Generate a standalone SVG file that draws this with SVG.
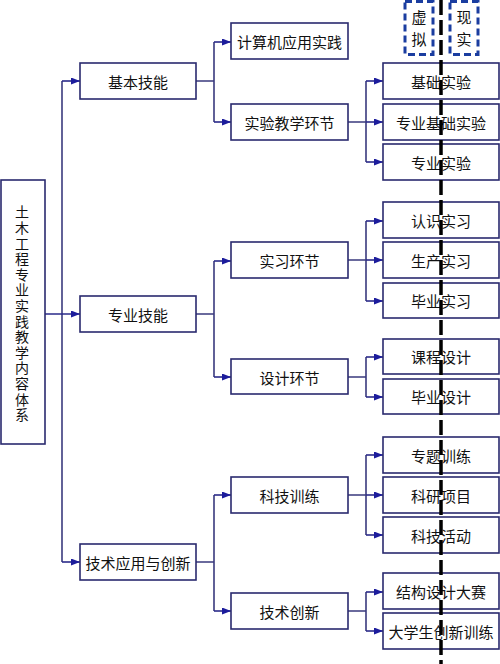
<svg xmlns="http://www.w3.org/2000/svg" width="500" height="664" viewBox="0 0 500 664">
<defs>
<marker id="arr" markerUnits="userSpaceOnUse" markerWidth="10" markerHeight="8" refX="9" refY="3.5" orient="auto">
<path d="M0,0 L9,3.5 L0,7 z" fill="#1c1c9c"/>
</marker>
</defs>
<style>
.box{fill:#fff;stroke:#2a2a6e;stroke-width:1.6}
.t{font-family:"Noto Sans CJK SC","Noto Sans",sans-serif;font-size:15px;fill:#111;text-anchor:middle;dominant-baseline:central}
.ln{fill:none;stroke:#3a3a7e;stroke-width:1.6}
.ar{fill:none;stroke:#2a2a8a;stroke-width:1.6;marker-end:url(#arr)}
.vb{fill:none;stroke:#1a3da0;stroke-width:3;stroke-dasharray:7 4}
.vt{font-family:"Noto Sans CJK SC","Noto Sans",sans-serif;font-size:14px;fill:#111;writing-mode:vertical-rl;letter-spacing:1.6px}
</style>
<rect width="500" height="664" fill="#fff"/>
<g id="connectors">
<path class="ln" d="M62 81 V562"/>
<path class="ar" d="M45 314 H80"/>
<path class="ar" d="M62 81 H80"/>
<path class="ar" d="M62 562 H80"/>
<path class="ln" d="M196 81 H214 M214 42 V122"/>
<path class="ar" d="M214 42 H231"/>
<path class="ar" d="M214 122 H231"/>
<path class="ln" d="M196 314 H214 M214 261 V377"/>
<path class="ar" d="M214 261 H231"/>
<path class="ar" d="M214 377 H231"/>
<path class="ln" d="M196 562 H214 M214 495 V611"/>
<path class="ar" d="M214 495 H231"/>
<path class="ar" d="M214 611 H231"/>
<path class="ln" d="M348 122 H366 M366 81 V162"/>
<path class="ar" d="M366 81 H383"/>
<path class="ar" d="M366 122 H383"/>
<path class="ar" d="M366 162 H383"/>
<path class="ln" d="M348 260 H366 M366 221 V301"/>
<path class="ar" d="M366 221 H383"/>
<path class="ar" d="M366 260 H383"/>
<path class="ar" d="M366 301 H383"/>
<path class="ln" d="M348 377 H366 M366 357 V397"/>
<path class="ar" d="M366 357 H383"/>
<path class="ar" d="M366 397 H383"/>
<path class="ln" d="M348 495 H366 M366 455 V535"/>
<path class="ar" d="M366 455 H383"/>
<path class="ar" d="M366 495 H383"/>
<path class="ar" d="M366 535 H383"/>
<path class="ln" d="M348 611 H366 M366 592 V631"/>
<path class="ar" d="M366 592 H383"/>
<path class="ar" d="M366 631 H383"/>
</g>
<g id="root">
<rect class="box" x="1" y="180" width="44" height="264"/>
<text class="vt" x="22" y="205">土木工程专业实践教学内容体系</text>
</g>
<g id="n-jbjn"><rect class="box" x="80" y="63" width="116" height="36"/><text class="t" x="138" y="81">基本技能</text></g>
<g id="n-zyjn"><rect class="box" x="80" y="296" width="116" height="36"/><text class="t" x="138" y="314">专业技能</text></g>
<g id="n-jsyy"><rect class="box" x="80" y="544" width="116" height="36"/><text class="t" x="138" y="562">技术应用与创新</text></g>
<g id="n-jsj"><rect class="box" x="231" y="23" width="117" height="36"/><text class="t" x="289.5" y="41">计算机应用实践</text></g>
<g id="n-syjx"><rect class="box" x="231" y="104" width="117" height="36"/><text class="t" x="289.5" y="122">实验教学环节</text></g>
<g id="n-sxhj"><rect class="box" x="231" y="242" width="117" height="36"/><text class="t" x="289.5" y="260">实习环节</text></g>
<g id="n-sjhj"><rect class="box" x="231" y="359" width="117" height="35"/><text class="t" x="289.5" y="377">设计环节</text></g>
<g id="n-kjxl"><rect class="box" x="231" y="477" width="117" height="36"/><text class="t" x="289.5" y="495">科技训练</text></g>
<g id="n-jscx"><rect class="box" x="231" y="593" width="117" height="36"/><text class="t" x="289.5" y="611">技术创新</text></g>
<g id="n-jcsy"><rect class="box" x="383" y="63" width="116" height="36"/><text class="t" x="441" y="81">基础实验</text></g>
<g id="n-zyjcsy"><rect class="box" x="383" y="104" width="116" height="36"/><text class="t" x="441" y="122">专业基础实验</text></g>
<g id="n-zysy"><rect class="box" x="383" y="144" width="116" height="36"/><text class="t" x="441" y="162">专业实验</text></g>
<g id="n-rssx"><rect class="box" x="383" y="202" width="116" height="36"/><text class="t" x="441" y="220">认识实习</text></g>
<g id="n-scsx"><rect class="box" x="383" y="242" width="116" height="36"/><text class="t" x="441" y="260">生产实习</text></g>
<g id="n-bysx"><rect class="box" x="383" y="283" width="116" height="35"/><text class="t" x="441" y="300.5">毕业实习</text></g>
<g id="n-kcsj"><rect class="box" x="383" y="339" width="116" height="35"/><text class="t" x="441" y="356.5">课程设计</text></g>
<g id="n-bysj"><rect class="box" x="383" y="379" width="116" height="35"/><text class="t" x="441" y="396.5">毕业设计</text></g>
<g id="n-ztxl"><rect class="box" x="383" y="437" width="116" height="36"/><text class="t" x="441" y="455">专题训练</text></g>
<g id="n-kyxm"><rect class="box" x="383" y="477" width="116" height="36"/><text class="t" x="441" y="495">科研项目</text></g>
<g id="n-kjhd"><rect class="box" x="383" y="517" width="116" height="36"/><text class="t" x="441" y="535">科技活动</text></g>
<g id="n-jgsj"><rect class="box" x="383" y="573" width="116" height="36"/><text class="t" x="441" y="591">结构设计大赛</text></g>
<g id="n-dxs"><rect class="box" x="383" y="613" width="116" height="36"/><text class="t" x="441" y="631">大学生创新训练</text></g>
<g id="n-xn"><rect class="vb" x="405" y="1.5" width="28" height="53"/><text class="vt" style="font-size:15px;letter-spacing:7px" x="419" y="10">虚拟</text></g>
<g id="n-xs"><rect class="vb" x="450" y="1.5" width="28" height="53"/><text class="vt" style="font-size:15px;letter-spacing:7px" x="464" y="10">现实</text></g>
<g id="divider"><path d="M441 0 V664" stroke="#000" stroke-width="3.5" stroke-dasharray="15 5" fill="none"/></g>
</svg>
